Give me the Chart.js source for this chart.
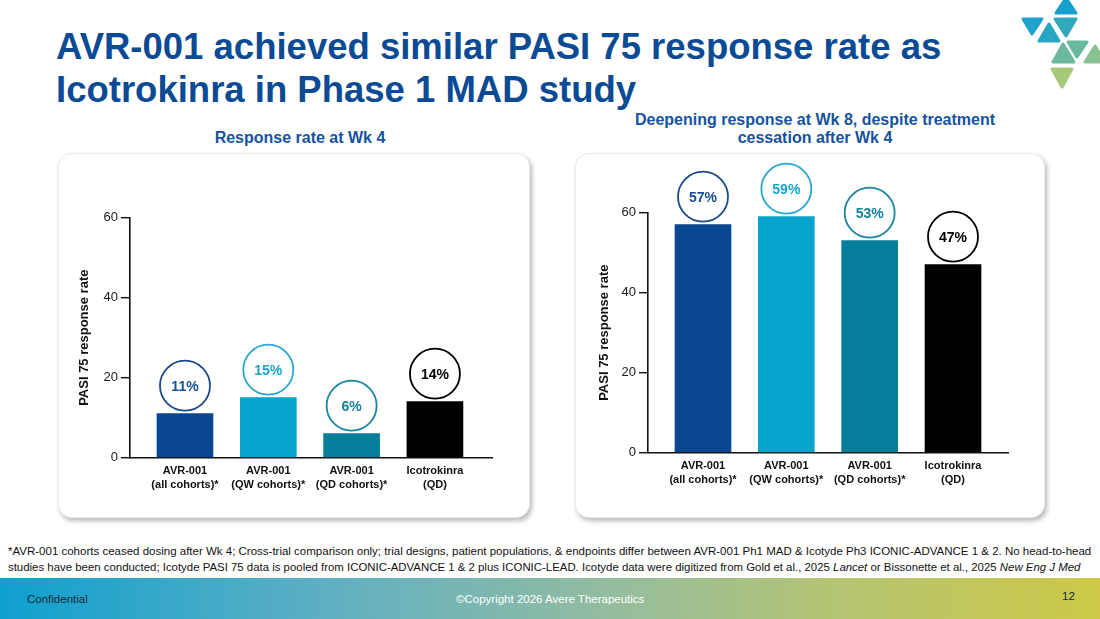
<!DOCTYPE html>
<html>
<head>
<meta charset="utf-8">
<script src="https://cdn.jsdelivr.net/npm/chart.js@4.4.1/dist/chart.umd.min.js"></script>
<style>
  html, body { margin:0; padding:0; background:#fff; }
  body { width:1100px; height:619px; position:relative; overflow:hidden; font-family:"Liberation Sans", Arial, sans-serif; }
  .title { position:absolute; left:56px; top:25px; font-size:36.5px; line-height:43px; font-weight:bold; color:#0b4a94; white-space:nowrap; }
  .sub { position:absolute; font-size:16px; line-height:18px; font-weight:bold; color:#1552a0; text-align:center; white-space:nowrap; }
  .card { position:absolute; background:#fff; border-radius:14px; border:1px solid #ececec; box-shadow:2px 3px 5px rgba(0,0,0,0.28); box-sizing:border-box; overflow:hidden; }
  .card canvas { position:absolute; left:-1px; top:-1px; }
  .foot { position:absolute; left:8px; font-size:10.8px; color:#111; white-space:nowrap; }
  .bar { position:absolute; left:0; top:578px; width:1100px; height:41px; background:linear-gradient(90deg,#0fa0cf 0%,#5fb0c2 30%,#93bca0 55%,#b3c474 75%,#cdc946 100%); }
  .bar span { position:absolute; font-size:11.5px; white-space:nowrap; }
  svg.logo { position:absolute; left:1000px; top:0; }
</style>
</head>
<body>
<div class="title">AVR-001 achieved similar PASI 75 response rate as<br>Icotrokinra in Phase 1 MAD study</div>
<div class="sub" style="left:150px; top:129px; width:300px;">Response rate at Wk 4</div>
<div class="sub" style="left:615px; top:111px; width:400px;">Deepening response at Wk 8, despite treatment<br>cessation after Wk 4</div>

<div class="card" style="left:58px; top:153px; width:472px; height:365px;"><canvas id="c1" width="472" height="365" style="width:472px;height:365px"></canvas></div>
<div class="card" style="left:575px; top:153px; width:470px; height:365px;"><canvas id="c2" width="470" height="365" style="width:470px;height:365px"></canvas></div>

<div class="foot" id="f1" style="top:545px;">*AVR-001 cohorts ceased dosing after Wk 4; Cross-trial comparison only; trial designs, patient populations, &amp; endpoints differ between AVR-001 Ph1 MAD &amp; Icotyde Ph3 ICONIC-ADVANCE 1 &amp; 2. No head-to-head</div>
<div class="foot" id="f2" style="top:561px;">studies have been conducted; Icotyde PASI 75 data is pooled from ICONIC-ADVANCE 1 &amp; 2 plus ICONIC-LEAD. Icotyde data were digitized from Gold et al., 2025 <i>Lancet</i> or Bissonette et al., 2025 <i>New Eng J Med</i></div>

<div class="bar">
  <span style="left:27px; top:15px; color:#14283c;">Confidential</span>
  <span style="left:456px; top:15px; color:#ffffff;">©Copyright 2026 Avere Therapeutics</span>
  <span style="left:1062px; top:12px; color:#14283c;">12</span>
</div>

<svg class="logo" width="100" height="95" viewBox="1000 0 100 95">
  <g stroke-linejoin="round" stroke-width="3">
    <polygon points="1066,-2 1076,13 1056,13" fill="#17a0cb" stroke="#17a0cb"/>
    <polygon points="1023,19 1042,19 1032,34" fill="#1fa2cb" stroke="#1fa2cb"/>
    <polygon points="1049,24 1059,41 1039,41" fill="#27a6c3" stroke="#27a6c3"/>
    <polygon points="1055,19 1076,19 1066,36" fill="#2fa9bb" stroke="#2fa9bb"/>
    <polygon points="1068,42 1087,42 1077,57" fill="#68b9a0" stroke="#68b9a0"/>
    <polygon points="1063,44 1074,62 1053,62" fill="#6ab9a0" stroke="#6ab9a0"/>
    <polygon points="1095,46 1105,62 1085,62" fill="#88c290" stroke="#88c290"/>
    <polygon points="1052,69 1072,69 1062,87" fill="#a6c97c" stroke="#a6c97c"/>
  </g>
</svg>

<script>
// ---- data ----
const categories = [["AVR-001","(all cohorts)*"],["AVR-001","(QW cohorts)*"],["AVR-001","(QD cohorts)*"],["Icotrokinra","(QD)"]];
const wk4Values = [11, 15, 6, 14];
const wk8Values = [57, 59, 53, 47];
const yTickValues = [0, 20, 40, 60];
const barColors = ["#08468f", "#07a5cd", "#057e9b", "#000000"];
const circleColors = ["#1a4a8c", "#28a8d0", "#1a84a1", "#000000"];
const textColors = ["#174d95", "#1aa4cc", "#17809d", "#000000"];
const yTitle = "PASI 75 response rate";

const circlePlugin = {
  id: 'circles',
  afterDatasetsDraw(chart) {
    const ctx = chart.ctx;
    const meta = chart.getDatasetMeta(0);
    const vals = chart.data.datasets[0].data;
    ctx.save();
    meta.data.forEach((bar, i) => {
      const cx = bar.x, cy = bar.y - 28;
      ctx.beginPath();
      ctx.arc(cx, cy, 25, 0, Math.PI * 2);
      ctx.fillStyle = '#fff';
      ctx.fill();
      ctx.lineWidth = 1.8;
      ctx.strokeStyle = circleColors[i];
      ctx.stroke();
      ctx.fillStyle = textColors[i];
      ctx.font = 'bold 14px "Liberation Sans", Arial, sans-serif';
      ctx.textAlign = 'center';
      ctx.textBaseline = 'middle';
      ctx.fillText(vals[i].y + '%', cx, cy + 1);
    });
    ctx.restore();
  }
};

function makeChart(id, values, opts) {
  const ctx = document.getElementById(id).getContext('2d');
  return new Chart(ctx, {
    type: 'bar',
    data: {
      datasets: [{
        data: values.map((v, i) => ({ x: i, y: v })),
        backgroundColor: barColors,
        borderWidth: 0,
        barThickness: 56
      }]
    },
    options: {
      responsive: false,
      animation: false,
      events: [],
      layout: { padding: { top: opts.padTop, right: opts.padRight, bottom: 0, left: 0 } },
      plugins: { legend: { display: false }, tooltip: { enabled: false } },
      scales: {
        x: {
          type: 'linear',
          offset: false,
          min: opts.xMin, max: opts.xMax,
          afterFit: s => { s.height = opts.xHeight; },
          afterBuildTicks: s => { s.ticks = categories.map((_, i) => ({ value: i })); },
          grid: { display: false, drawTicks: false, offset: false },
          border: { display: true, color: '#111', width: 1.6 },
          ticks: {
            padding: 7,
            autoSkip: false,
            maxRotation: 0,
            color: '#111',
            font: { family: '"Liberation Sans", Arial, sans-serif', size: 11, weight: 'bold', lineHeight: 1.22 },
            callback: v => categories[v]
          }
        },
        y: {
          min: 0, max: 60,
          afterFit: s => { s.width = opts.yWidth; },
          afterBuildTicks: s => { s.ticks = yTickValues.map(v => ({ value: v })); },
          grid: { drawOnChartArea: false, drawTicks: true, tickLength: 9, color: '#111', lineWidth: 1.4 },
          border: { display: true, color: '#111', width: 1.6 },
          ticks: {
            padding: 3,
            color: '#1a1a1a',
            font: { family: '"Liberation Sans", Arial, sans-serif', size: 13 }
          },
          title: {
            display: true,
            text: yTitle,
            color: '#111',
            padding: { top: opts.titlePad, bottom: 0 },
            font: { family: '"Liberation Sans", Arial, sans-serif', size: 13, weight: 'bold', lineHeight: 1.2 }
          }
        }
      }
    },
    plugins: [circlePlugin]
  });
}

makeChart('c1', wk4Values, { padTop: 64.7, padRight: 38, xHeight: 60.3, yWidth: 72, xMin: -0.66, xMax: 3.685, titlePad: 18.7 });
makeChart('c2', wk8Values, { padTop: 59.7, padRight: 37, xHeight: 65.3, yWidth: 73, xMin: -0.66, xMax: 3.66, titlePad: 21.7 });

// fit footnote lines to their measured widths in the reference
function fitWidth(id, target) {
  const el = document.getElementById(id);
  const w = el.getBoundingClientRect().width;
  const fs = parseFloat(getComputedStyle(el).fontSize);
  el.style.fontSize = (fs * target / w) + 'px';
}
fitWidth('f1', 1084);
fitWidth('f2', 1073);
</script>
</body>
</html>
